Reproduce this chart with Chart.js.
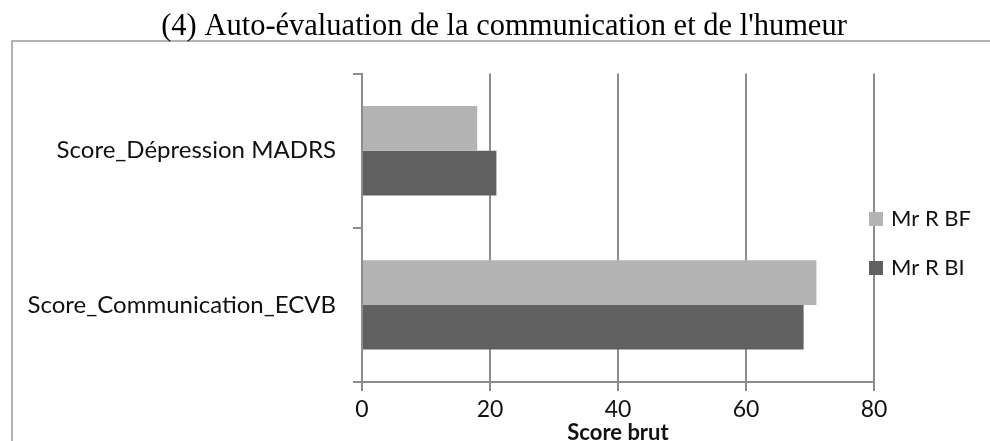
<!DOCTYPE html>
<html lang="fr">
<head>
<meta charset="utf-8">
<script src="https://cdn.jsdelivr.net/npm/chart.js@4/dist/chart.umd.min.js"></script>
<style>
  html, body { margin: 0; padding: 0; background: #fff; }
  #wrap { width: 990px; height: 441px; }
</style>
</head>
<body>
<div id="wrap"><canvas id="grafico" width="990" height="441"></canvas></div>
<script>
// ------------------------------------------------------------
// Dados
// ------------------------------------------------------------
const categorias = ["Score_Dépression MADRS", "Score_Communication_ECVB"];
const serieBF = [18, 71];   // Mr R BF (cinza claro)
const serieBI = [21, 69];   // Mr R BI (cinza escuro)
const nomesSeries = ["Mr R BF", "Mr R BI"];
const coresSeries = ["#b3b3b3", "#606060"];
const ticksX = [0, 20, 40, 60, 80];

const FONTE = "Lato, 'Open Sans', sans-serif";
const CINZA = "#8c8c8c";

// Moldura cinza (só borda esquerda e de cima ficam visíveis)
const moldura = {
  id: "moldura",
  beforeDraw(chart) {
    const ctx = chart.ctx;
    ctx.save();
    ctx.strokeStyle = "#9a9a9a";
    ctx.lineWidth = 1.5;
    ctx.beginPath();
    ctx.moveTo(12, 445);
    ctx.lineTo(12, 41);
    ctx.lineTo(995, 41);
    ctx.stroke();
    ctx.restore();
  },
};

// Legenda desenhada à mão, sobreposta à linha do 80
const legenda = {
  id: "legendaManual",
  afterDraw(chart) {
    const ctx = chart.ctx;
    const ys = [219, 268];
    ctx.save();
    ctx.font = "22px " + FONTE;
    ctx.textBaseline = "middle";
    chart.data.datasets.forEach((ds, i) => {
      ctx.fillStyle = ds.backgroundColor;
      ctx.fillRect(869, ys[i] - 7, 14, 14);
      ctx.fillStyle = "#111";
      ctx.fillText(ds.label, 891, ys[i]);
    });
    ctx.restore();
  },
};

const grafico = new Chart(document.getElementById("grafico").getContext("2d"), {
  type: "bar",
  data: {
    labels: categorias,
    datasets: [
      { label: nomesSeries[0], data: serieBF, backgroundColor: coresSeries[0] },
      { label: nomesSeries[1], data: serieBI, backgroundColor: coresSeries[1] },
    ],
  },
  options: {
    indexAxis: "y",
    responsive: false,
    animation: false,
    categoryPercentage: 0.58,
    barPercentage: 1.0,
    layout: { padding: { left: 18, right: 0, top: 0, bottom: 0 } },
    scales: {
      x: {
        min: 0,
        max: 80,
        afterBuildTicks: (s) => { s.ticks = ticksX.map(v => ({ value: v })); },
        afterFit: (s) => { s.height = 59; },
        grid: { color: CINZA, lineWidth: 2, tickLength: 9, drawTicks: true },
        border: { color: CINZA, width: 2 },
        ticks: { color: "#111", font: { family: FONTE, size: 23 }, padding: 5 },
        title: {
          display: true,
          text: "Score brut",
          color: "#111",
          font: { family: FONTE, size: 22, weight: "bold", lineHeight: 1 },
          padding: { top: 0, bottom: -3 },
        },
      },
      y: {
        afterFit: (s) => { s.width = 344; },
        grid: { drawOnChartArea: false, drawTicks: true, tickLength: 9, offset: true, color: CINZA, lineWidth: 2 },
        border: { color: CINZA, width: 2 },
        ticks: { color: "#111", font: { family: FONTE, size: 24 }, padding: 17 },
      },
      // eixo vazio à direita: reserva o espaço onde fica a legenda
      direita: {
        position: "right",
        type: "linear",
        afterFit: (s) => { s.width = 116; },
        grid: { display: false },
        border: { display: false },
        ticks: { display: false },
      },
    },
    plugins: {
      legend: { display: false },
      tooltip: { enabled: false },
      title: {
        display: true,
        text: "(4) Auto-évaluation de la communication et de l'humeur",
        color: "#000",
        font: { family: "'Liberation Serif', 'Times New Roman', serif", size: 30.5, weight: "normal", lineHeight: 1.2 },
        padding: { top: 9, bottom: 28 },
      },
    },
  },
  plugins: [moldura, legenda],
});
</script>
</body>
</html>
